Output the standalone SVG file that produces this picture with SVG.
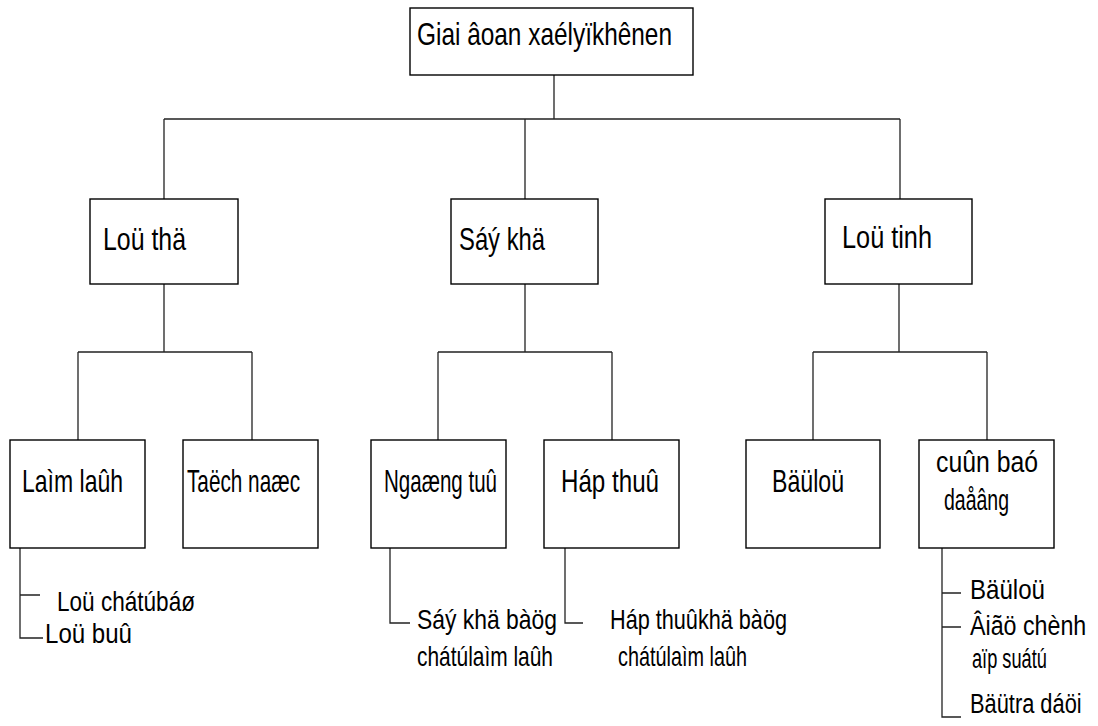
<svg xmlns="http://www.w3.org/2000/svg" width="1098" height="726" viewBox="0 0 1098 726">
<style>
.box{fill:#fff;stroke:#000;stroke-width:1.4}
.ln{fill:none;stroke:#222;stroke-width:1.3}
text{font-family:"Liberation Sans",Arial,sans-serif;font-size:32px;fill:#000}
text.n{font-size:28px}
</style>
<rect width="1098" height="726" fill="#fff"/>
<g id="connectors">
<path class="ln" d="M554 75V119M164 119H900M164 119V199M525 119V199M900 119V199"/>
<path class="ln" d="M164 284V352M78 352H252M78 352V440M252 352V440"/>
<path class="ln" d="M525 284V352M438 352H612M438 352V440M612 352V440"/>
<path class="ln" d="M899 284V352M813 352H987M813 352V440M987 352V440"/>
<path class="ln" d="M20 548V638H43M20 595H40"/>
<path class="ln" d="M390 548V623H410"/>
<path class="ln" d="M565 548V623H583"/>
<path class="ln" d="M942 548V717H961M942 593H961M942 627H961"/>
</g>
<g id="root"><rect class="box" x="410" y="8" width="283" height="67"/><text x="417" y="45" textLength="255" lengthAdjust="spacingAndGlyphs">Giai âoan xaélyïkhênen</text></g>
<g id="loc-tho"><rect class="box" x="90" y="199" width="148" height="85"/><text x="103" y="250" textLength="83" lengthAdjust="spacingAndGlyphs">Loü thä</text></g>
<g id="say-kho"><rect class="box" x="451" y="199" width="147" height="85"/><text x="459" y="250" textLength="86" lengthAdjust="spacingAndGlyphs">Sáý khä</text></g>
<g id="loc-tinh"><rect class="box" x="825" y="199" width="147" height="85"/><text x="842" y="248" textLength="90" lengthAdjust="spacingAndGlyphs">Loü tinh</text></g>
<g id="lam-lanh"><rect class="box" x="10" y="440" width="135" height="108"/><text x="22" y="492" textLength="101" lengthAdjust="spacingAndGlyphs">Laìm laûh</text></g>
<g id="tach-nuoc"><rect class="box" x="183" y="440" width="135" height="108"/><text x="187" y="492" textLength="113" lengthAdjust="spacingAndGlyphs">Taëch naæc</text></g>
<g id="ngung-tu"><rect class="box" x="371" y="440" width="135" height="108"/><text x="384" y="492" textLength="113" lengthAdjust="spacingAndGlyphs">Ngaæng tuû</text></g>
<g id="hap-thu"><rect class="box" x="544" y="440" width="135" height="108"/><text x="561" y="492" textLength="98" lengthAdjust="spacingAndGlyphs">Háp thuû</text></g>
<g id="bo-loc"><rect class="box" x="746" y="440" width="134" height="108"/><text x="772" y="492" textLength="72" lengthAdjust="spacingAndGlyphs">Bäüloü</text></g>
<g id="cuon-bao"><rect class="box" x="919" y="440" width="135" height="108"/><text class="n" x="936" y="472" textLength="102" lengthAdjust="spacingAndGlyphs" style="font-size:30px">cuûn baó</text><text class="n" x="944" y="510" textLength="65" lengthAdjust="spacingAndGlyphs" style="font-size:30px">daåâng</text></g>
<g id="notes-lam-lanh">
<text class="n" x="57" y="611" textLength="138" lengthAdjust="spacingAndGlyphs">Loü chátúbáø</text>
<text class="n" x="45" y="643" textLength="87" lengthAdjust="spacingAndGlyphs">Loü buû</text>
</g>
<g id="notes-ngung-tu">
<text class="n" x="417" y="629" textLength="140" lengthAdjust="spacingAndGlyphs">Sáý khä bàög</text>
<text class="n" x="417" y="666" textLength="136" lengthAdjust="spacingAndGlyphs">chátúlaìm laûh</text>
</g>
<g id="notes-hap-thu">
<text class="n" x="610" y="629" textLength="177" lengthAdjust="spacingAndGlyphs">Háp thuûkhä bàög</text>
<text class="n" x="618" y="666" textLength="129" lengthAdjust="spacingAndGlyphs">chátúlaìm laûh</text>
</g>
<g id="notes-cuon-bao">
<text class="n" x="970" y="599" textLength="75" lengthAdjust="spacingAndGlyphs">Bäüloü</text>
<text class="n" transform="translate(970 635) scale(0.83 1)">Âiãö chènh</text>
<text class="n" transform="translate(972 668) scale(0.65 1)">aïp suátú</text>
<text class="n" transform="translate(970 713) scale(0.78 1)">Bäütra dáöi</text>
</g>
</svg>
